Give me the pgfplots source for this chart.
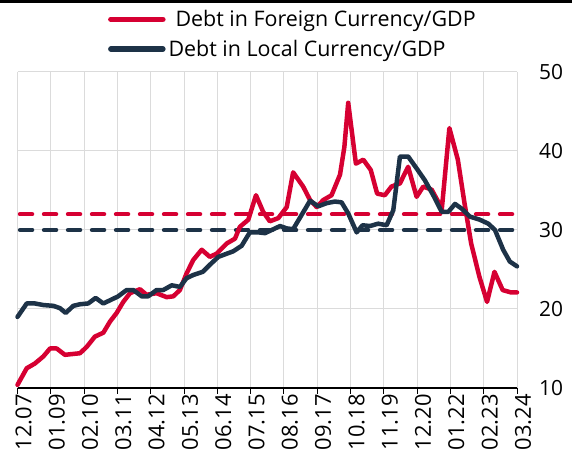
\documentclass[border=0pt]{standalone}
\usepackage{pgfplots}
\pgfplotsset{compat=1.18}
\usepackage{fontspec}
\setmainfont{Open Sans}
\definecolor{fred}{RGB}{214,0,50}
\definecolor{fnavy}{RGB}{29,50,71}
\begin{document}
\begin{tikzpicture}[x=1bp,y=1bp]
\useasboundingbox (0,0) rectangle (572,468);
\draw[black, line width=3bp] (0,466.5) -- (572,466.5);
\begin{axis}[
  at={(17.5bp,80bp)}, anchor=south west,
  scale only axis, width=499.5bp, height=316bp,
  xmin=0, xmax=195, ymin=10, ymax=50,
  xtick={0,13,...,195},
  xticklabels={12.07,01.09,02.10,03.11,04.12,05.13,06.14,07.15,08.16,09.17,10.18,11.19,12.20,01.22,02.23,03.24},
  ytick={10,20,30,40,50},
  axis x line*=bottom, axis y line*=right,
  y axis line style={draw=none},
  x axis line style={black,line width=1.2bp,-},
  xtick style={black,line width=1bp},
  ytick style={draw=none},
  tick align=outside,
  major tick length=6bp,
  grid=major, major grid style={black!14, line width=1bp},
  xticklabel style={rotate=90, anchor=east, font=\fontsize{22}{22}\selectfont, inner sep=0pt, yshift=-6bp},
  yticklabel style={anchor=west, font=\fontsize{21}{21}\selectfont, inner sep=0pt, xshift=16bp},
  /pgf/number format/assume math mode=true,
  legend style={at={(axis description cs:0.181,1.205)}, anchor=north west, draw=none, fill=none,
    font=\fontsize{21.5}{21.5}\selectfont, row sep=6bp, inner sep=0pt, nodes={inner sep=3bp}, cells={anchor=west}},
  legend image code/.code={\draw[#1, line width=5.5bp, line cap=round] (0bp,0bp) -- (52bp,0bp);},
  clip=false,
]
\addplot[forget plot, fred, line width=4.5bp, line cap=round, dash pattern=on 12bp off 12bp] coordinates {(1,32) (194,32)};
\addplot[forget plot, fnavy, line width=4.5bp, line cap=round, dash pattern=on 12bp off 12bp] coordinates {(1,30) (194,30)};
\addplot[fred, line width=4.5bp, line join=round, line cap=round] coordinates {
(0,10.4)(3.6,12.5)(6.8,13.1)(10.1,14.0)(12.7,15.0)(15.3,15.0)(18.5,14.2)(24.4,14.4)(27,15.2)(30.2,16.5)(33.5,17.0)(36.1,18.4)(38.7,19.5)(41.3,20.9)(43.9,22.0)(47.8,22.5)(50.4,21.8)(54.3,22.0)(58.2,21.5)(60.8,21.6)(63.4,22.4)(66,24.5)(68.6,26.2)(71.9,27.5)(75.1,26.6)(77.7,27.0)(81.7,28.3)(84.9,28.9)(86.8,30.4)(90.1,31.3)(93.1,34.4)(95.9,32.3)(98.5,31.1)(101.8,31.5)(105.1,32.9)(107.6,37.3)(111.5,35.5)(114.2,33.8)(116.8,32.9)(119.4,33.8)(122.6,34.4)(125.9,37.0)(127.6,40.5)(129.1,46.1)(132.1,38.4)(135,38.9)(137.9,37.6)(140.4,34.6)(143.4,34.4)(146,35.5)(149.3,35.9)(152.5,38.0)(155.8,34.2)(158.4,35.5)(161.7,35.1)(164.2,33.6)(165.6,32.5)(168.6,42.9)(171.9,38.9)(174.5,33.4)(177.1,28.3)(180.3,24.1)(183.3,20.9)(186.2,24.7)(189.4,22.4)(192.6,22.1)(195,22.1)
};
\addlegendentry{\hspace{7bp}Debt in Foreign Currency/GDP}
\addplot[fnavy, line width=4.5bp, line join=round, line cap=round] coordinates {
(0,19.0)(3.6,20.7)(6.8,20.7)(10.1,20.5)(14,20.4)(16.6,20.1)(18.8,19.5)(21.8,20.4)(24.4,20.6)(27.6,20.7)(30.5,21.4)(33.5,20.7)(36.1,21.1)(39.3,21.6)(42.6,22.4)(45.2,22.4)(48.5,21.6)(51,21.6)(54.3,22.4)(56.9,22.4)(60.2,23.0)(63.4,22.8)(66,23.9)(68.6,24.3)(72.3,24.7)(75.1,25.6)(78.4,26.6)(81.7,27.0)(84.2,27.3)(87.5,28.0)(90.7,29.7)(94,29.7)(96.6,29.6)(99.9,30.1)(102.5,30.5)(105.1,30.2)(107.6,30.1)(110.9,31.9)(114.2,33.7)(117.4,33.0)(120.7,33.4)(123.9,33.6)(126.5,33.5)(129.1,32.1)(132.4,29.7)(134.7,30.6)(137.6,30.5)(140.8,30.8)(144.1,30.6)(146.7,32.5)(149.3,39.3)(152.5,39.3)(155.8,37.8)(159,36.3)(162.3,34.4)(165.6,32.3)(168.2,32.3)(170.8,33.3)(173.4,32.7)(176.6,31.7)(180.5,31.3)(183.8,30.8)(186.4,30.0)(189.6,27.5)(192.2,26.0)(195,25.4)
};
\addlegendentry{Debt in Local Currency/GDP}
\end{axis}
\end{tikzpicture}
\end{document}
